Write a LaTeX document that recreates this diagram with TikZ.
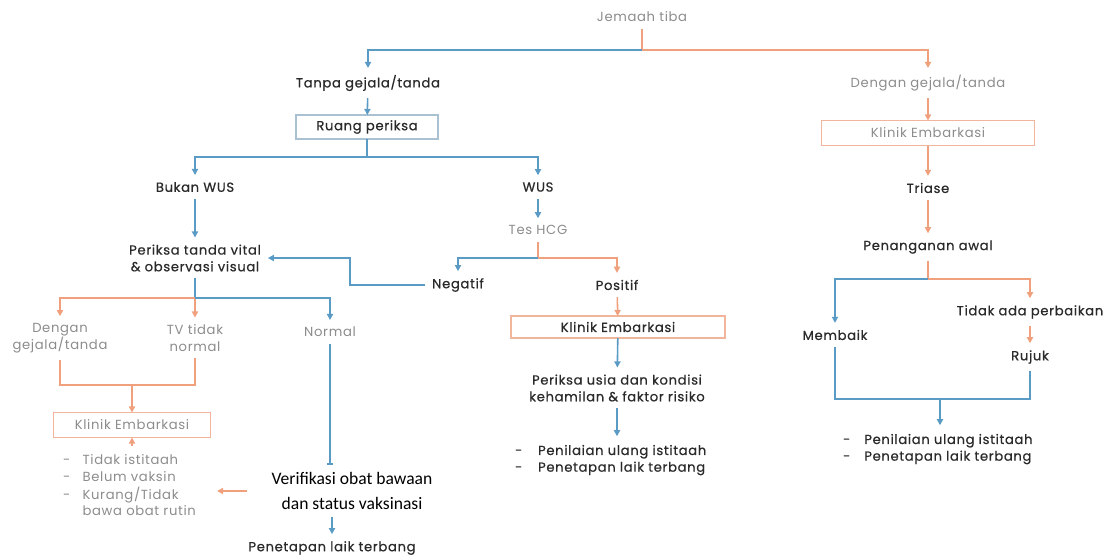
\documentclass[tikz,border=0pt]{standalone}
\usepackage{fontspec}
\setmainfont{Poppins}[LetterSpace=5]
\newfontfamily\medfont{Poppins}[LetterSpace=5,FakeBold=0.6]
\newfontfamily\verifont{Carlito}
\usetikzlibrary{positioning,calc,arrows.meta}

\definecolor{ink}{HTML}{2A2A2A}
\definecolor{greytext}{HTML}{8C8C8C}
\definecolor{blueln}{HTML}{5A9BC6}
\definecolor{orangeln}{HTML}{F0A07C}
\definecolor{bluebox}{HTML}{A9C1D1}
\definecolor{orangebox}{HTML}{F1B59C}

\tikzset{
  txt/.style={font=\medfont\fontsize{7.5}{9.5}\selectfont, text=ink, align=center, inner sep=1pt, outer sep=3pt},
  faint/.style={txt, font=\normalfont\fontsize{7.5}{9.5}\selectfont, text=greytext},
  bluebx/.style={txt, draw=bluebox, line width=0.8pt, outer sep=0pt},
  orangebx/.style={txt, draw=orangebox, line width=0.8pt, outer sep=0pt},
  bl/.style={draw=blueln, line width=0.9pt},
  og/.style={draw=orangeln, line width=0.9pt},
  >={Triangle[length=3.5pt,width=3.5pt]}
}

\begin{document}
\begin{tikzpicture}[x=0.02cm,y=-0.02cm]
        \useasboundingbox (0,0) rectangle (1117,555);

        % top
        \node[faint] (jt) at (642,17) {Jemaah tiba};
        \node[txt] (tanpa) at (368,83) {Tanpa gejala/tanda};
        \node[faint] (dengan2) at (928,83) {Dengan gejala/tanda};
        \node[bluebx, minimum width=2.84cm, minimum height=0.48cm] (ruang) at (367,127) {Ruang periksa};

        % left branch
        \node[txt] (bukan) at (195,187) {Bukan WUS};
        \node[txt] (periksa) at (195,258) {Periksa tanda vital\\\& observasi visual};
        \node[faint] (dengan1) at (60,338) {Dengan\\gejala/tanda};
        \node[faint] (tvtidak) at (195,338) {TV tidak\\normal};
        \node[faint] (normal) at (330,332) {Normal};
        \node[orangebx, font=\normalfont\fontsize{7.5}{9.5}\selectfont, text=greytext, minimum width=3.14cm, minimum height=0.5cm] (klinik1) at (132,425) {Klinik Embarkasi};
        \node[faint, anchor=west, align=left] (bul1) at (56,487) {%
          \begin{tabular}{@{}l@{\hspace{7pt}}l@{}}
          - & Tidak istitaah\\
          - & Belum vaksin\\
          - & Kurang/Tidak\\
            & bawa obat rutin
          \end{tabular}};
        \node[txt, font=\verifont\fontsize{10}{14.5}\selectfont, text=black] (verif) at (352,491) {Verifikasi obat bawaan\\dan status vaksinasi};
        \node[txt] (penetapan) at (332,548) {Penetapan laik terbang};

        % middle branch
        \node[txt] (wus) at (538,187) {WUS};
        \node[faint] (teshcg) at (538,230) {Tes HCG};
        \node[txt] (negatif) at (458,285) {Negatif};
        \node[txt] (positif) at (617,285) {Positif};
        \node[orangebx, minimum width=4.28cm, minimum height=0.44cm] (klinik2) at (618,327) {Klinik Embarkasi};
        \node[txt] (usia) at (617,388) {Periksa usia dan kondisi\\kehamilan \& faktor risiko};
        \node[txt, anchor=west, align=left] (bul2) at (508,460) {%
          \begin{tabular}{@{}l@{\hspace{9pt}}l@{}}
          - & Penilaian ulang istitaah\\
          - & Penetapan laik terbang
          \end{tabular}};

        % right branch
        \node[orangebx, font=\normalfont\fontsize{7.5}{9.5}\selectfont, text=greytext, minimum width=4.26cm, minimum height=0.5cm] (klinik3) at (928,133) {Klinik Embarkasi};
        \node[txt] (triase) at (928,188) {Triase};
        \node[txt] (penanganan) at (928,247) {Penanganan awal};
        \node[txt] (membaik) at (835,335) {Membaik};
        \node[txt] (tidakada) at (1030,312) {Tidak ada perbaikan};
        \node[txt] (rujuk) at (1030,357) {Rujuk};
        \node[txt, anchor=west, align=left] (bul3) at (836,449) {%
          \begin{tabular}{@{}l@{\hspace{8pt}}l@{}}
          - & Penilaian ulang istitaah\\
          - & Penetapan laik terbang
          \end{tabular}};

        % junctions
        \coordinate (j1) at (642,50);
        \coordinate (j2) at (367,157);
        \coordinate (j3) at (538,258);
        \coordinate (j4) at (195,298);
        \coordinate (j5) at (132,385);
        \coordinate (j6) at (928,279);
        \coordinate (j7) at (940,399);
        \coordinate (nb) at (350,258);

        \draw[og] (jt) -- (j1);
        \draw[bl,->] (j1) -| (tanpa);
        \draw[og,->] (j1) -| (dengan2);
        \draw[bl,->] (tanpa) -- (ruang);
        \draw[bl] (ruang) -- (j2);
        \draw[bl,->] (j2) -| (bukan);
        \draw[bl,->] (j2) -| (wus);

        \draw[bl,->] (bukan) -- (periksa);
        \draw[bl,->] (negatif) -| (nb) -- (periksa.east);
        \draw[bl] (periksa) -- (j4);
        \draw[og,->] (j4) -| (dengan1);
        \draw[og,->] (j4) -- (tvtidak);
        \draw[bl,->] (j4) -| (normal);
        \draw[og] (dengan1) |- (j5);
        \draw[og] (tvtidak) |- (j5);
        \draw[og,->] (j5) -- (klinik1);
        \draw[og,->] (klinik1 |- bul1.north) -- (klinik1);
        \draw[bl,-{Bar[width=3pt]}] (normal) -- (normal |- verif.north);
        \draw[og,->, shorten <=10pt, shorten >=8pt] (verif.west) -- (verif.west -| bul1.east);
        \draw[bl,->] (verif.south -| penetapan) -- (penetapan);

        \draw[bl,->] (wus) -- (teshcg);
        \draw[og] (teshcg) -- (j3);
        \draw[bl,->] (j3) -| (negatif);
        \draw[og,->] (j3) -| (positif);
        \draw[og,->] (positif) -- (klinik2);
        \draw[bl,->] (klinik2) -- (usia);
        \draw[bl,->] (usia) -- (usia |- bul2.north);

        \draw[og,->] (dengan2) -- (klinik3);
        \draw[og,->] (klinik3) -- (triase);
        \draw[og,->] (triase) -- (penanganan);
        \draw[og] (penanganan) -- (j6);
        \draw[bl,->] (j6) -| (membaik);
        \draw[og,->] (j6) -| (tidakada);
        \draw[og,->] (tidakada) -- (rujuk);
        \draw[bl] (membaik) |- (j7);
        \draw[bl] (rujuk) |- (j7);
        \draw[bl,->] (j7) -- (j7 |- bul3.north);
\end{tikzpicture}
\end{document}
